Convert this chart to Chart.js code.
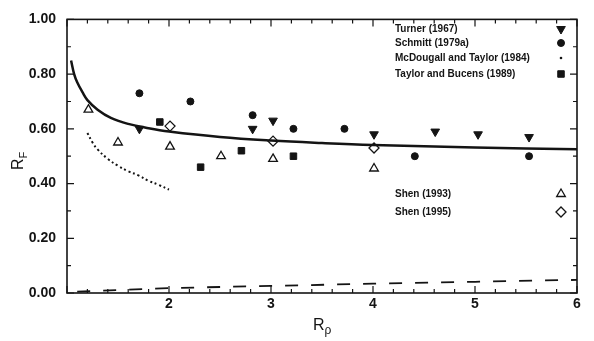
<!DOCTYPE html>
<html>
<head>
<meta charset="utf-8">
<script src="https://cdn.jsdelivr.net/npm/chart.js@4.4.0/dist/chart.umd.min.js"></script>
<style>
    html, body { margin: 0; padding: 0; background: #fff; }
    #wrap { width: 594px; height: 341px; }
</style>
</head>
<body>
<div id="wrap"><canvas id="rfChart" width="594" height="341"></canvas></div>
<script>
"use strict";

// model curve (solid)
var curveX = [1.04, 1.07, 1.10, 1.15, 1.20, 1.30, 1.43, 1.60, 1.80, 2.00, 2.50, 3.00, 3.50, 4.00, 5.00, 6.00];
var curveY = [0.85, 0.80, 0.77, 0.735, 0.705, 0.67, 0.64, 0.618, 0.602, 0.59, 0.57, 0.557, 0.548, 0.541, 0.532, 0.525];

// dashed curve near zero
var dashX = [1.10, 2.00, 3.00, 4.00, 5.00, 6.00];
var dashY = [0.005, 0.018, 0.026, 0.034, 0.041, 0.048];

// McDougall and Taylor (1984), dotted
var mcdX = [1.20, 1.25, 1.30, 1.40, 1.50, 1.60, 1.70, 1.80, 1.90, 2.00];
var mcdY = [0.585, 0.55, 0.525, 0.49, 0.465, 0.445, 0.43, 0.41, 0.395, 0.378];

var turnerX = [1.71, 2.82, 3.02, 4.01, 4.61, 5.03, 5.53];
var turnerY = [0.60, 0.60, 0.63, 0.58, 0.59, 0.58, 0.57];

var schmittX = [1.71, 2.21, 2.82, 3.22, 3.72, 4.41, 5.53];
var schmittY = [0.73, 0.70, 0.65, 0.60, 0.60, 0.50, 0.50];

var taylorX = [1.91, 2.31, 2.71, 3.22];
var taylorY = [0.625, 0.46, 0.52, 0.50];

var shen93X = [1.21, 1.50, 2.01, 2.51, 3.02, 4.01];
var shen93Y = [0.67, 0.55, 0.535, 0.50, 0.49, 0.455];

var shen95X = [2.01, 3.02, 4.01];
var shen95Y = [0.61, 0.555, 0.53];

var xMin = 1, xMax = 6;
var yMin = 0, yMax = 1;

function pts(xs, ys) {
    return xs.map(function (x, i) { return { x: x, y: ys[i] }; });
}

var ink = '#141414';

var datasets = [
    {
        label: 'curve', data: pts(curveX, curveY), showLine: true,
        borderColor: ink, borderWidth: 2.5, pointRadius: 0, tension: 0.4, fill: false
    }, {
        label: 'dash', data: pts(dashX, dashY), showLine: true,
        borderColor: ink, borderWidth: 1.8, borderDash: [13, 13], pointRadius: 0, fill: false
    }, {
        label: 'McDougall and Taylor (1984)', data: pts(mcdX, mcdY), showLine: true,
        borderColor: ink, borderWidth: 2, borderDash: [2, 2.8], pointRadius: 0, tension: 0.4, fill: false,
        legendY: 58, legendStyle: 'circle', legendRadius: 1.3
    }, {
        label: 'Turner (1967)', data: pts(turnerX, turnerY),
        pointStyle: 'triangle', rotation: 180, pointRadius: 5,
        backgroundColor: ink, borderColor: ink, borderWidth: 1, legendY: 29
    }, {
        label: 'Schmitt (1979a)', data: pts(schmittX, schmittY),
        pointStyle: 'circle', pointRadius: 3.5,
        backgroundColor: ink, borderColor: ink, borderWidth: 1, legendY: 43
    }, {
        label: 'Taylor and Bucens (1989)', data: pts(taylorX, taylorY),
        pointStyle: 'rect', pointRadius: 4.6,
        backgroundColor: ink, borderColor: ink, borderWidth: 1, legendY: 74
    }, {
        label: 'Shen (1993)', data: pts(shen93X, shen93Y),
        pointStyle: 'triangle', pointRadius: 5,
        backgroundColor: '#fff', borderColor: ink, borderWidth: 1.3, legendY: 194
    }, {
        label: 'Shen (1995)', data: pts(shen95X, shen95Y),
        pointStyle: 'rectRot', pointRadius: 5,
        backgroundColor: '#fff', borderColor: ink, borderWidth: 1.3, legendY: 212
    }
];

// frame with inward ticks on all four sides
var frameTicks = {
    id: 'frameTicks',
    beforeDatasetsDraw: function (chart) {
        var ctx = chart.ctx, a = chart.chartArea;
        var sx = chart.scales.x, sy = chart.scales.y;
        ctx.save();
        ctx.strokeStyle = ink;
        ctx.lineWidth = 1.6;
        ctx.strokeRect(a.left, a.top, a.right - a.left, a.bottom - a.top);
        ctx.lineWidth = 1.2;
        ctx.beginPath();
        for (var i = 0; i <= (xMax - xMin) * 5; i++) {
            var v = xMin + i * 0.2;
            var px = sx.getPixelForValue(v);
            var len = (i % 5 === 0) ? 7 : 4;
            ctx.moveTo(px, a.bottom); ctx.lineTo(px, a.bottom - len);
            ctx.moveTo(px, a.top); ctx.lineTo(px, a.top + len);
        }
        for (var j = 0; j <= 10; j++) {
            var py = sy.getPixelForValue(yMin + j * 0.1);
            var l2 = (j % 2 === 0) ? 7 : 4;
            ctx.moveTo(a.left, py); ctx.lineTo(a.left + l2, py);
            ctx.moveTo(a.right, py); ctx.lineTo(a.right - l2, py);
        }
        ctx.stroke();
        ctx.restore();
    }
};

// in-plot legend + axis titles with subscripts
var legendTitles = {
    id: 'legendTitles',
    afterDatasetsDraw: function (chart) {
        var ctx = chart.ctx;
        ctx.save();
        ctx.fillStyle = ink;
        ctx.font = 'bold 10px "Liberation Sans", Arial, sans-serif';
        ctx.textBaseline = 'middle';
        ctx.textAlign = 'left';
        chart.data.datasets.forEach(function (ds) {
            if (!ds.legendY) return;
            ctx.fillStyle = ink;
            ctx.fillText(ds.label, 395, ds.legendY);
            ctx.fillStyle = ds.backgroundColor || ink;
            ctx.strokeStyle = ds.borderColor || ink;
            ctx.lineWidth = ds.borderWidth || 1;
            Chart.helpers.drawPoint(ctx, {
                pointStyle: ds.legendStyle || ds.pointStyle,
                rotation: ds.rotation || 0,
                radius: ds.legendRadius || ds.pointRadius,
                borderWidth: ds.legendStyle ? 0 : ds.borderWidth
            }, 561, ds.legendY);
        });

        ctx.fillStyle = ink;
        ctx.textBaseline = 'alphabetic';
        // y title R_F
        ctx.save();
        ctx.translate(23, 170);
        ctx.rotate(-Math.PI / 2);
        ctx.font = '16px "Liberation Sans", Arial, sans-serif';
        ctx.fillText('R', 0, 0);
        var w = ctx.measureText('R').width;
        ctx.font = '11px "Liberation Sans", Arial, sans-serif';
        ctx.fillText('F', w, 4);
        ctx.restore();
        // x title R_rho
        ctx.font = '16px "Liberation Sans", Arial, sans-serif';
        ctx.fillText('R', 313, 330);
        var w2 = ctx.measureText('R').width;
        ctx.font = '12px "Liberation Sans", Arial, sans-serif';
        ctx.fillText('\u03C1', 313 + w2, 334);
        ctx.restore();
    }
};

var tickFont = { family: '"Liberation Sans", Arial, sans-serif', size: 14, weight: 'bold' };

new Chart(document.getElementById('rfChart').getContext('2d'), {
    type: 'scatter',
    data: { datasets: datasets },
    options: {
        responsive: false,
        animation: false,
        layout: { padding: { left: 0, top: 15, right: 17, bottom: 0 } },
        plugins: { legend: { display: false }, tooltip: { enabled: false } },
        scales: {
            x: {
                type: 'linear', min: xMin, max: xMax,
                grid: { display: false, drawTicks: false },
                border: { display: false },
                ticks: {
                    stepSize: 0.2, autoSkip: false, maxRotation: 0, padding: 3,
                    color: ink, font: tickFont,
                    callback: function (v) {
                        var r = Math.round(v);
                        return (Math.abs(v - r) < 1e-6 && r >= 2) ? String(r) : '';
                    }
                },
                afterFit: function (s) { s.height = 48; }
            },
            y: {
                type: 'linear', min: yMin, max: yMax,
                grid: { display: false, drawTicks: false },
                border: { display: false },
                ticks: {
                    stepSize: 0.1, autoSkip: false, padding: 11,
                    color: ink, font: tickFont,
                    callback: function (v) {
                        return Math.round(v * 10) % 2 === 0 ? v.toFixed(2) : '';
                    }
                },
                afterFit: function (s) { s.width = 67; }
            }
        }
    },
    plugins: [frameTicks, legendTitles]
});
</script>
</body>
</html>
